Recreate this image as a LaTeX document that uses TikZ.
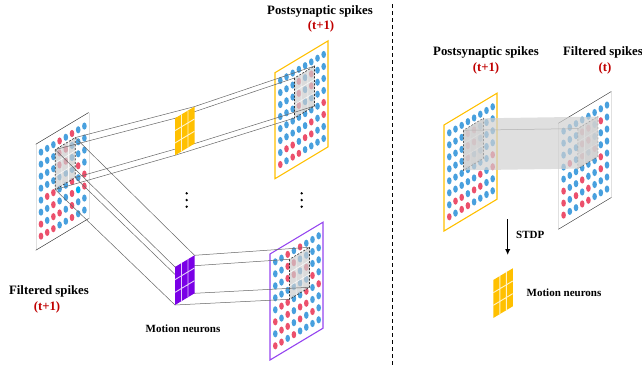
\documentclass[tikz,border=0pt]{standalone}
\usepackage{fontspec}
\setmainfont{Liberation Serif}
\usetikzlibrary{shapes.geometric,arrows.meta}

\definecolor{dot0}{RGB}{72,160,222}
\definecolor{dot1}{RGB}{236,80,108}
\definecolor{dot2}{RGB}{0,176,240}
\definecolor{kgold}{RGB}{255,192,0}
\definecolor{kviolet}{RGB}{122,0,230}
\definecolor{pviolet}{RGB}{150,70,240}
\definecolor{tred}{RGB}{192,0,0}

\tikzset{
  spike/.style={ellipse,inner sep=0pt,minimum width=4.6pt,minimum height=7.2pt},
  selbox/.style={fill=black!20,fill opacity=.7,draw=black!80,dash pattern=on 2pt off 1.5pt,line width=.6pt},
  band/.style={fill=black!18,fill opacity=.7},
  link/.style={draw=black!60,line width=.5pt},
  title/.style={inner sep=0pt,font=\bfseries\fontsize{12.8}{14}\selectfont},
  stamp/.style={inner sep=0pt,text=tred,font=\bfseries\fontsize{12.8}{14}\selectfont},
  small/.style={inner sep=0pt,font=\bfseries\fontsize{11}{13}\selectfont}
}

% 8x8 grid of spikes in a slanted plane
\newcommand{\spikegrid}[2]{%
  \foreach \rowlist [count=\j from 0] in {#2}
    \foreach \v [count=\i from 0] in \rowlist
      \node[spike,fill=dot\v] (#1-\i-\j) at (5.3+6.2*\i,11+12*\j) {};}

% dashed 3x3 window
\newcommand{\selgrid}[1]{%
  \filldraw[selbox] (19.5,17) rectangle (39.5,57);
  \foreach \k in {1,2}
    \draw[white,opacity=.8,line width=.6pt] (19.5+20*\k/3,17) -- (19.5+20*\k/3,57) (19.5,17+40*\k/3) -- (39.5,17+40*\k/3);
  \coordinate (#1-tl) at (19.5,17); \coordinate (#1-tr) at (39.5,17);
  \coordinate (#1-bl) at (19.5,57); \coordinate (#1-br) at (39.5,57);}

% motion neuron kernel
\newcommand{\kcorners}[2]{%
  \coordinate (#1-tl) at (0,0); \coordinate (#1-tr) at (19.5,0);
  \coordinate (#1-bl) at (0,#2); \coordinate (#1-br) at (19.5,#2);}
\newcommand{\kernel}[2]{%
  \fill[#1] (0,0) rectangle (19.5,#2);
  \foreach \k in {1,2}
    \draw[white!80!#1,line width=.9pt] (6.5*\k,0) -- (6.5*\k,#2) (0,#2*\k/3) -- (19.5,#2*\k/3);}

\begin{document}
\begin{tikzpicture}[x=1pt,y=-1pt]
\useasboundingbox (0,0) rectangle (642,370);

% filtered spikes (t+1)
\begin{scope}[shift={(35.7,144.3)},yslant=0.6]
  \fill[white] (0,0) rectangle (53,106);
  \draw[black!12] (0,0) -- (0,106) (53,0) -- (53,106);
  \draw[black!85] (0,0) -- (53,0) (0,106) -- (53,106);
  \spikegrid{fl}{{0,0,0,1,0,1,0,0},{0,0,0,1,1,0,0,0},{0,0,0,1,1,0,0,0},{0,0,0,0,0,0,1,0},
    {0,1,1,0,0,1,0,1},{0,0,1,0,0,1,2,1},{1,0,1,1,0,1,0,0},{1,1,1,0,0,1,0,0}}
  \selgrid{fb}
\end{scope}

% postsynaptic spikes, yellow
\begin{scope}[shift={(275,72.7)},yslant=0.6]
  \filldraw[fill=white,draw=kgold,line width=1.1pt] (0,0) rectangle (53,106);
  \spikegrid{py}{{0,0,0,0,0,0,0,0},{0,0,0,1,0,1,0,0},{0,0,0,1,0,1,0,0},{0,0,0,1,0,0,0,0},
    {0,0,0,0,0,0,0,1},{0,0,0,0,0,1,0,1},{0,1,1,0,1,1,0,0},{1,0,1,1,0,0,0,0}}
  \selgrid{yb}
\end{scope}

% postsynaptic spikes, violet
\begin{scope}[shift={(270,254)},yslant=0.6]
  \filldraw[fill=white,draw=pviolet,line width=1.1pt] (0,0) rectangle (53,106);
  \spikegrid{pv}{{0,0,1,0,1,0,0,0},{0,0,1,1,0,0,0,0},{0,0,1,1,0,1,0,0},{0,0,0,0,0,0,1,0},
    {0,1,1,0,0,1,0,1},{1,0,1,0,1,1,0,0},{0,1,1,0,1,0,1,0},{1,1,0,1,0,0,0,0}}
  \selgrid{pb}
\end{scope}

% kernels: corners first, links, then the kernels on top
\begin{scope}[shift={(175,118.3)},yslant=0.6]
  \kcorners{yk}{37}
\end{scope}
\begin{scope}[shift={(175,267)},yslant=0.6]
  \kcorners{pk}{38}
\end{scope}

\foreach \c in {tl,tr,bl,br} {
  \draw[link] (fb-\c) -- (yk-\c) -- (yb-\c);
  \draw[link] (fb-\c) -- (pk-\c) -- (pb-\c);
}

\begin{scope}[shift={(175,118.3)},yslant=0.6]
  \kernel{kgold}{37}
\end{scope}
\begin{scope}[shift={(175,267)},yslant=0.6]
  \kernel{kviolet}{38}
\end{scope}

\foreach \y in {193.3,200,206.7} {
  \fill (186.7,\y) circle (1.3pt);
  \fill (301.7,\y) circle (1.3pt);
}

\node[title] (ttl-post) at (320,11) {Postsynaptic spikes};
\node[stamp] (ttl-post-t) at (321,26) {(t+1)};
\node[title] (ttl-filt) at (49,291) {Filtered spikes};
\node[stamp] (ttl-filt-t) at (47,307) {(t+1)};
\node[small] (ttl-motion) at (183,329) {Motion neurons};

% divider
\coordinate (div-top) at (392,4);
\coordinate (div-bot) at (392,366);
\draw[line width=.8pt,dash pattern=on 4pt off 3pt] (div-top) -- (div-bot);

% right panel: postsynaptic spikes (t+1)
\begin{scope}[shift={(444,125)},yslant=0.6]
  \filldraw[fill=white,draw=kgold,line width=1.1pt] (0,0) rectangle (53,106);
  \spikegrid{rp}{{0,0,0,0,0,0,0,0},{0,0,0,1,1,0,0,0},{0,0,0,1,1,0,0,0},{0,0,0,1,0,0,0,0},
    {0,0,0,0,0,0,0,1},{0,0,0,0,0,1,0,1},{0,1,1,0,1,1,0,0},{1,0,1,1,0,0,0,0}}
  \selgrid{rpb}
\end{scope}

% right panel: filtered spikes (t)
\begin{scope}[shift={(558.3,123.3)},yslant=0.6]
  \fill[white] (0,0) rectangle (53,106);
  \draw[black!12] (0,0) -- (0,106) (53,0) -- (53,106);
  \draw[black!85] (0,0) -- (53,0) (0,106) -- (53,106);
  \spikegrid{rf}{{0,0,0,0,0,0,0,0},{0,0,0,1,1,0,1,0},{0,0,0,1,1,0,0,0},{0,1,0,1,0,1,0,0},
    {0,0,0,0,0,0,1,0},{1,0,0,1,0,0,1,0},{1,0,1,0,1,0,0,0},{1,0,0,1,1,0,0,0}}
  \selgrid{rfb}
\end{scope}

\fill[band] (rpb-tl) -- (rpb-tr) -- (rfb-tr) -- (rfb-br) -- (rfb-bl) -- (rpb-bl) -- cycle;
\draw[black!30,line width=.5pt] (rpb-tl) -- (rfb-tl);

% STDP update
\coordinate (stdp-a) at (507.7,219);
\coordinate (stdp-b) at (507.7,255);
\draw[line width=1.5pt,-{Latex[length=6pt,width=5.5pt]}] (stdp-a) -- (stdp-b);
\node[small,anchor=west] (stdp) at (516,235) {STDP};

\begin{scope}[shift={(493.3,280)},yslant=0.6]
  \kernel{kgold}{38}
\end{scope}

\node[title] (ttl-rpost) at (486,52) {Postsynaptic spikes};
\node[stamp] (ttl-rpost-t) at (486,68) {(t+1)};
\node[title] (ttl-rfilt) at (603,52) {Filtered spikes};
\node[stamp] (ttl-rfilt-t) at (605,68) {(t)};
\node[small] (ttl-rmotion) at (564,293) {Motion neurons};
\end{tikzpicture}
\end{document}
